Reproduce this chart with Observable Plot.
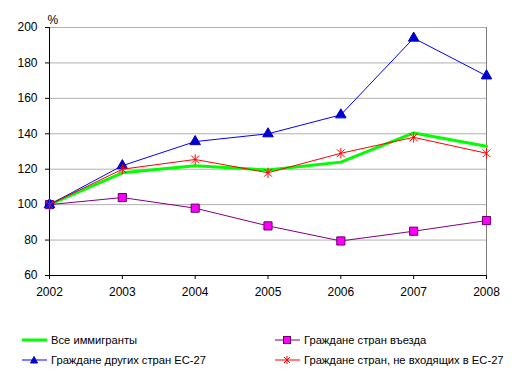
<!DOCTYPE html>
<html><head><meta charset="utf-8">
<script src="https://cdn.jsdelivr.net/npm/d3@7"></script>
<script src="https://cdn.jsdelivr.net/npm/@observablehq/plot@0.6"></script>
<style>
body{margin:0;background:#fff;font-family:"Liberation Sans",Arial,sans-serif;}
#wrap{position:relative;width:516px;height:375px;overflow:hidden;}
#wrap svg.plot{position:absolute;left:0;top:0;}
.leg{position:absolute;font-size:11.2px;line-height:14px;display:flex;align-items:center;color:#000;white-space:nowrap;}
.leg svg{margin-right:4px;}
</style></head><body><div id="wrap"></div>
<script>
const years = [2002, 2003, 2004, 2005, 2006, 2007, 2008];
const allImmigrants = [100, 118, 122, 119.5, 124, 140.5, 133];
const nationals = [100, 104, 98, 88, 79.5, 85, 91];
const otherEU = [100, 122, 135.6, 140, 150.7, 194, 172.7];
const nonEU = [100, 120, 125.5, 118, 129, 138, 129];
const yTicks = [60, 80, 100, 120, 140, 160, 180, 200];
const seriesNames = ["Все иммигранты", "Граждане стран въезда", "Граждане других стран ЕС-27", "Граждане стран, не входящих в ЕС-27"];

const rows = (vals, name) => years.map((y, i) => ({year: y, value: vals[i], name}));
const gAll = rows(allImmigrants, seriesNames[0]);
const gNat = rows(nationals, seriesNames[1]);
const gEU = rows(otherEU, seriesNames[2]);
const gNon = rows(nonEU, seriesNames[3]);

const starSymbol = {
  draw(ctx, size) {
    const r = Math.sqrt(size / Math.PI);
    const d = r * 0.75;
    ctx.moveTo(0, -r); ctx.lineTo(0, r);
    ctx.moveTo(-d, -d); ctx.lineTo(d, d);
    ctx.moveTo(-d, d); ctx.lineTo(d, -d);
  }
};

const chart = Plot.plot({
  width: 516,
  height: 305,
  marginTop: 27,
  marginBottom: 30,
  marginLeft: 49,
  marginRight: 30,
  style: {fontFamily: "Liberation Sans, Arial, sans-serif", fontSize: "12px", color: "#000", background: "transparent"},
  x: {type: "linear", domain: [2002, 2008]},
  y: {domain: [60, 200]},
  marks: [
    Plot.ruleY(yTicks.filter(t => t > 60), {stroke: "#b0b0b0", strokeWidth: 1, strokeOpacity: 1}),
    Plot.ruleX([2008], {stroke: "#808080", strokeWidth: 1, strokeOpacity: 1}),
    Plot.axisY({ticks: yTicks, tickSize: 4, tickPadding: 8, label: null, fontSize: 12, stroke: "#000"}),
    Plot.axisX({ticks: years, tickFormat: "d", tickSize: 4, tickPadding: 8, label: null, fontSize: 12, stroke: "#000"}),
    Plot.ruleX([2002], {stroke: "#000", strokeWidth: 1, strokeOpacity: 1}),
    Plot.ruleY([60], {stroke: "#000", strokeWidth: 1, strokeOpacity: 1}),
    Plot.line(gAll, {x: "year", y: "value", stroke: "#00ff00", strokeWidth: 3, strokeLinejoin: "miter"}),
    Plot.line(gNat, {x: "year", y: "value", stroke: "#800080", strokeWidth: 1}),
    Plot.dot(gNat, {x: "year", y: "value", symbol: "square", r: 4.6, fill: "#ff00ff", stroke: "#660066", strokeWidth: 1}),
    Plot.line(gEU, {x: "year", y: "value", stroke: "#0000ff", strokeWidth: 1}),
    Plot.dot(gEU, {x: "year", y: "value", symbol: "triangle", r: 3.9, fill: "#0000cc", stroke: "#0000cc", strokeWidth: 1}),
    Plot.line(gNon, {x: "year", y: "value", stroke: "#ff0000", strokeWidth: 1}),
    Plot.dot(gNon, {x: "year", y: "value", symbol: starSymbol, r: 5.2, fill: "none", stroke: "#ff0000", strokeWidth: 1}),
    Plot.text(["%"], {frameAnchor: "top-left", dx: -2, dy: -12, textAnchor: "start", fontSize: 12})
  ]
});
const wrap = document.getElementById("wrap");
wrap.appendChild(chart);

function legendItem(label, x, y, color, width, sym) {
  const div = document.createElement("div");
  div.className = "leg";
  div.style.left = x + "px";
  div.style.top = (y - 7) + "px";
  let m = "";
  if (sym === "square") m = `<rect x="8.5" y="3.5" width="7" height="7" fill="#ff00ff" stroke="#660066"/>`;
  if (sym === "triangle") m = `<path d="M12,3.5 L15.5,10 L8.5,10 Z" fill="#0000cc" stroke="#0000cc"/>`;
  if (sym === "star") m = `<path d="M12,3 V11 M9,4 L15,10 M9,10 L15,4" stroke="#ff0000" fill="none"/>`;
  div.innerHTML = `<svg width="25" height="14"><line x1="0" x2="25" y1="7" y2="7" stroke="${color}" stroke-width="${width}"/>${m}</svg><span>${label}</span>`;
  wrap.appendChild(div);
}
legendItem(seriesNames[0], 22, 340, "#00ff00", 3, null);
legendItem(seriesNames[1], 275, 340, "#800080", 1, "square");
legendItem(seriesNames[2], 22, 360, "#0000ff", 1, "triangle");
legendItem(seriesNames[3], 275, 360, "#ff0000", 1, "star");
</script></body></html>
